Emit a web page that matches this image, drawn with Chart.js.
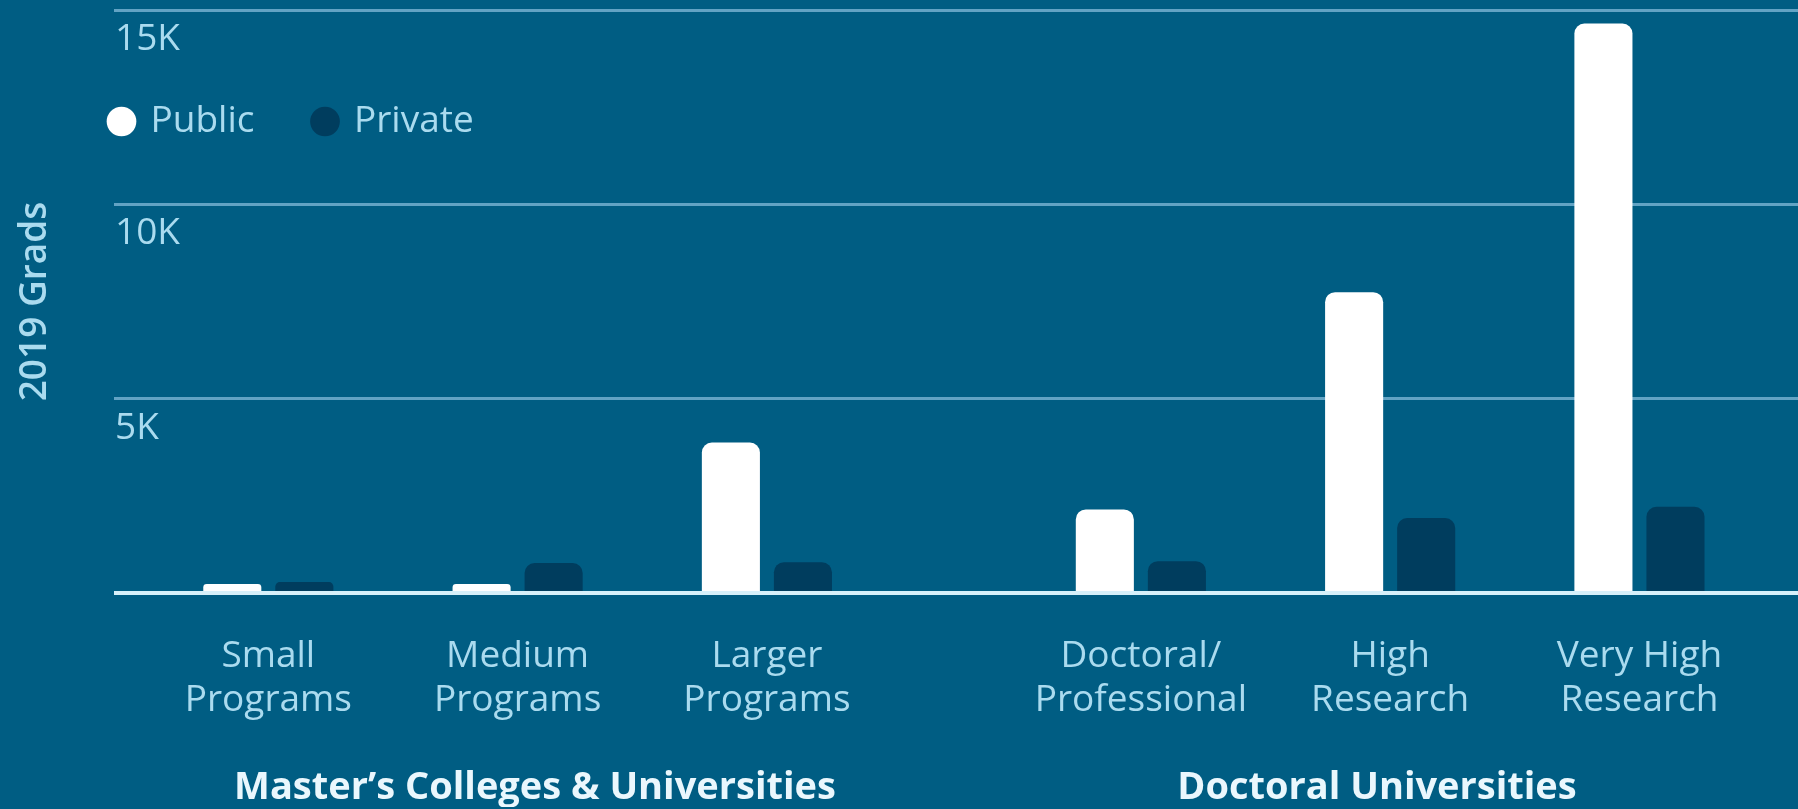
<!DOCTYPE html>
<html>
<head>
<meta charset="utf-8">
<script src="https://cdn.jsdelivr.net/npm/chart.js@4.4.1/dist/chart.umd.min.js"></script>
<style>
  html, body { margin: 0; padding: 0; background: #005d83; overflow: hidden; }
  #wrap { width: 1798px; height: 809px; position: relative; }
  canvas { display: block; }
</style>
</head>
<body>
<div id="wrap"><canvas id="c" width="1798" height="809"></canvas></div>
<script>
// ---- data ----
const categories = [
  ['Small', 'Programs'],
  ['Medium', 'Programs'],
  ['Larger', 'Programs'],
  ['Doctoral/', 'Professional'],
  ['High', 'Research'],
  ['Very High', 'Research']
];
const categoryGroup = [0, 0, 0, 1, 1, 1];
const groupLabels = ['Master\u2019s Colleges & Universities', 'Doctoral Universities'];
const publicGrads = [230, 230, 3870, 2150, 7740, 14650];
const privateGrads = [280, 770, 790, 820, 1930, 2220];
const yTickValues = [0, 5000, 10000, 15000];
const seriesNames = ['Public', 'Private'];

// ---- styling ----
const PUBLIC_COLOR = '#ffffff';
const PRIVATE_COLOR = '#003d5e';
const GRID_COLOR = '#62a3c4';
const BASE_COLOR = '#d6f0fa';
const TEXT_COLOR = '#aadbef';
const GROUP_COLOR = '#eaf7fd';
const GROUP_GAP = 0.5;

Chart.defaults.font.family = "'Open Sans', 'Noto Sans', sans-serif";

const positions = categories.map((c, i) => i + categoryGroup[i] * GROUP_GAP);
const toPoints = vals => vals.map((v, i) => ({ x: positions[i], y: v }));

// legend drawn inside the plot, taking no layout space
const legendPlacer = {
  id: 'legendPlacer',
  beforeLayout(chart) {
    const lg = chart.legend;
    if (lg && !lg._noSpace) {
      const origFit = lg.fit.bind(lg);
      lg.fit = function () { origFit(); this._realHeight = this.height; this.height = 0; };
      lg._noSpace = true;
    }
  },
  afterLayout(chart) {
    const lg = chart.legend;
    if (!lg) return;
    const w = lg.width, h = lg._realHeight || lg.height;
    lg.left = 51; lg.right = 51 + w;
    lg.top = 43; lg.bottom = 43 + h;
  }
};

new Chart(document.getElementById('c'), {
  type: 'bar',
  data: {
    datasets: [
      { label: seriesNames[0], data: toPoints(publicGrads), backgroundColor: PUBLIC_COLOR, borderRadius: 10, borderSkipped: 'start' },
      { label: seriesNames[1], data: toPoints(privateGrads), backgroundColor: PRIVATE_COLOR, borderRadius: 10, borderSkipped: 'start' }
    ]
  },
  plugins: [legendPlacer],
  options: {
    responsive: false,
    animation: false,
    categoryPercentage: 0.578,
    barPercentage: 0.806,
    layout: { padding: { top: 10, left: 0, right: 0, bottom: 2 } },
    plugins: {
      tooltip: { enabled: false },
      legend: {
        position: 'top',
        align: 'start',
        labels: {
          usePointStyle: true,
          pointStyle: 'circle',
          boxWidth: 21,
          boxHeight: 21,
          padding: 60,
          color: TEXT_COLOR,
          font: { size: 37 }
        }
      }
    },
    scales: {
      x: {
        type: 'linear',
        offset: false,
        min: -0.619,
        max: 6.136,
        grid: { display: false, drawTicks: false },
        border: { display: false },
        afterBuildTicks: axis => { axis.ticks = positions.map(p => ({ value: p })); },
        afterFit: axis => { axis.height = 130; },
        ticks: {
          autoSkip: false,
          maxRotation: 0,
          minRotation: 0,
          padding: 41,
          color: TEXT_COLOR,
          font: { size: 37, lineHeight: 1.2 },
          callback: value => {
            const i = positions.indexOf(value);
            return i >= 0 ? categories[i] : '';
          }
        }
      },
      xg: {
        type: 'category',
        labels: groupLabels,
        position: 'bottom',
        weight: 1,
        offset: true,
        grid: { display: false, drawTicks: false },
        border: { display: false },
        afterFit: axis => { axis.height = 84; },
        ticks: {
          maxRotation: 0,
          minRotation: 0,
          padding: 46,
          color: GROUP_COLOR,
          font: { size: 38, weight: 'bold', lineHeight: 1 }
        }
      },
      y: {
        min: 0,
        max: 15000,
        afterBuildTicks: axis => { axis.ticks = yTickValues.map(v => ({ value: v })); },
        afterFit: axis => { axis.width = 114; },
        grid: {
          drawTicks: false,
          color: ctx => (ctx.tick && ctx.tick.value === 0) ? BASE_COLOR : GRID_COLOR,
          lineWidth: ctx => (ctx.tick && ctx.tick.value === 0) ? 4 : 3
        },
        border: { display: false },
        ticks: {
          mirror: true,
          align: 'start',
          labelOffset: 11,
          padding: 1,
          color: TEXT_COLOR,
          font: { size: 37 },
          callback: v => v === 0 ? '' : (v / 1000) + 'K'
        },
        title: {
          display: true,
          text: '2019 Grads',
          color: TEXT_COLOR,
          font: { size: 37, weight: '600', lineHeight: 1.2 },
          padding: { top: 13, bottom: 20 }
        }
      }
    }
  }
});
</script>
</body>
</html>
